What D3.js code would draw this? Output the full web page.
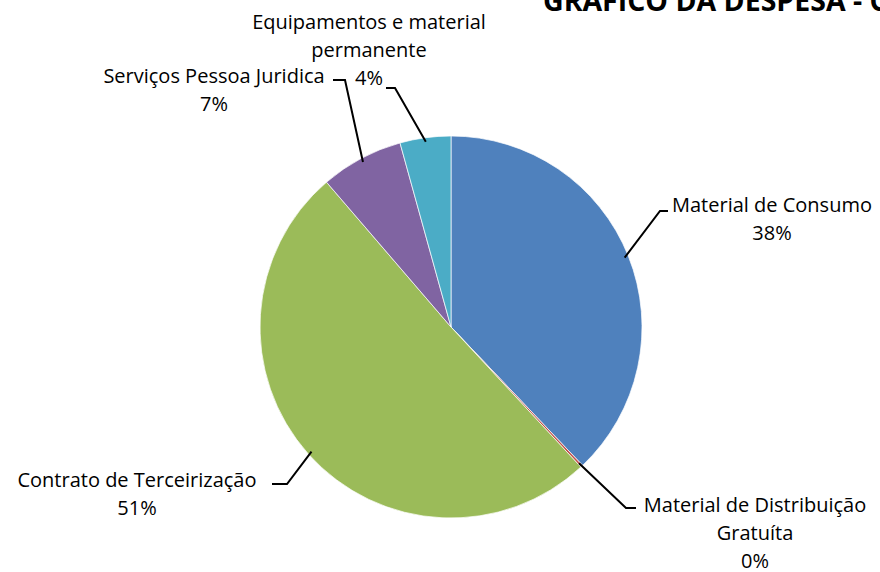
<!DOCTYPE html>
<html>
<head>
<meta charset="utf-8">
<script src="https://cdn.jsdelivr.net/npm/d3@7"></script>
<style>
  body { margin: 0; background: #fff; }
  svg { display: block; }
  text { font-family: 'Open Sans', 'Noto Sans', sans-serif; fill: #000; }
</style>
</head>
<body>
<svg width="880" height="572"></svg>
<script>
const svg = d3.select('svg')
const width = +svg.attr('width')
const height = +svg.attr('height')

// data
const categories = [
	['Material de Consumo'],
	['Material de Distribuição', 'Gratuíta'],
	['Contrato de Terceirização'],
	['Serviços Pessoa Juridica'],
	['Equipamentos  e material', 'permanente']
]
const shares = [37.9, 0.2, 50.6, 7.0, 4.3]
const colors = ['#4F81BD', '#C0504D', '#9BBB59', '#8064A2', '#4BACC6']

// label anchors (center of text block) and elbow of leader line
const labelPos = [
	{ x: 772, y: 205, elbow: [660, 211], end: [668, 211] },
	{ x: 755, y: 505, elbow: [626, 508], end: [636, 508] },
	{ x: 137, y: 480, elbow: [287, 484], end: [272, 484] },
	{ x: 214, y: 76, elbow: [345, 80], end: [333, 80] },
	{ x: 369, y: 22, elbow: [395, 88], end: [386, 88] }
]

const cx = 451
const cy = 327
const radius = 191
const lineHeight = 28

const pie = d3.pie().sort(null).value(d => d)
const arc = d3.arc().innerRadius(0).outerRadius(radius)
const arcs = pie(shares)

const total = d3.sum(shares)
const fmt = v => Math.round(v / total * 100) + '%'

/*

TITLE

*/
svg.append('text')
	.attr('x', 543)
	.attr('y', 11)
	.style('font-weight', 'bold')
	.style('font-size', '28.5px')
	.text('GRÁFICO DA DESPESA - CUSTEIO')

/*

PIE

*/
const g = svg.append('g').attr('transform', `translate(${cx},${cy})`)

g.selectAll('path')
	.data(arcs)
	.enter()
	.append('path')
	.attr('d', arc)
	.attr('fill', (d, i) => colors[i])
	.attr('stroke', '#fff')
	.attr('stroke-width', 0.7)

/*

LEADERS AND LABELS

*/
const leader = d3.line()
svg.selectAll('path.leader')
	.data(arcs)
	.enter()
	.append('path')
	.attr('class', 'leader')
	.attr('fill', 'none')
	.attr('stroke', '#000')
	.attr('stroke-width', 2)
	.attr('d', (d, i) => {
		const a = (d.startAngle + d.endAngle) / 2
		const r = radius - 4
		const p0 = [cx + r * Math.sin(a), cy - r * Math.cos(a)]
		return leader([p0, labelPos[i].elbow, labelPos[i].end])
	})

const labels = svg.selectAll('text.label')
	.data(arcs)
	.enter()
	.append('text')
	.attr('class', 'label')
	.attr('text-anchor', 'middle')
	.style('font-size', '20px')

labels.each(function (d, i) {
	const lines = categories[i].concat([fmt(d.value)])
	const t = d3.select(this)
	lines.forEach((s, k) => {
		t.append('tspan')
			.attr('x', labelPos[i].x)
			.attr('y', labelPos[i].y + k * lineHeight)
			.attr('dy', '0.33em')
			.text(s)
	})
})
</script>
</body>
</html>
